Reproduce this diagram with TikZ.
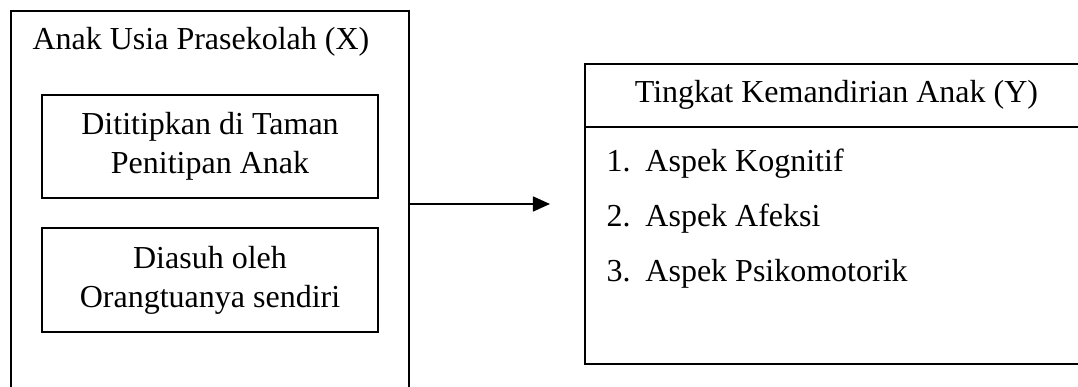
\documentclass[tikz,border=0pt]{standalone}
\usepackage{fontspec}
\setmainfont{Liberation Serif}
\usetikzlibrary{positioning,arrows.meta}
\tikzset{
	kotak/.style={draw,line width=0.75pt,inner sep=0pt},
	teks/.style={inner sep=0pt,font=\fontsize{12}{14.6}\selectfont},
	butir/.style={teks,anchor=base west},
}
\newcommand{\nomor}[1]{\makebox[14.6pt][l]{#1}}
\begin{document}
\begin{tikzpicture}[x=0.375pt,y=-0.375pt]
	\useasboundingbox(0,0)rectangle(1078,387);
	\clip(0,0)rectangle(1078,387);
	% kotak variabel X
	\node[kotak,anchor=north west,minimum width=149.25pt,minimum height=157.5pt](anak)at(10,10){};
	\node[teks,anchor=base west](judulx)at(32,50){Anak Usia Prasekolah (X)};
	\node[kotak,teks,align=center,minimum width=126pt,minimum height=38.6pt](titip)at(210,146.5)
		{Dititipkan di Taman\\Penitipan Anak};
	\node[kotak,teks,align=center,minimum width=126pt,minimum height=39pt](asuh)at(210,280)
		{Diasuh oleh\\Orangtuanya sendiri};
	% kotak variabel Y
	\node[kotak,anchor=north west,minimum width=200pt,minimum height=112.5pt](mandiri)at(584,63){};
	\node[teks,anchor=base](juduly)at(836.5,103){Tingkat Kemandirian Anak (Y)};
	\coordinate(sekat)at(584,127);
	\draw[line width=0.75pt](sekat)--(sekat-|mandiri.east);
	\node[butir](k1)at(606,172){\nomor{1.}Aspek Kognitif};
	\node[butir](k2)at(606,227){\nomor{2.}Aspek Afeksi};
	\node[butir](k3)at(606,282){\nomor{3.}Aspek Psikomotorik};
	% panah
	\coordinate(ujung)at(550,204);
	\draw[line width=0.75pt,-{Triangle[length=6.4pt,width=5.6pt]}](anak.east|-ujung)--(ujung);
\end{tikzpicture}
\end{document}
